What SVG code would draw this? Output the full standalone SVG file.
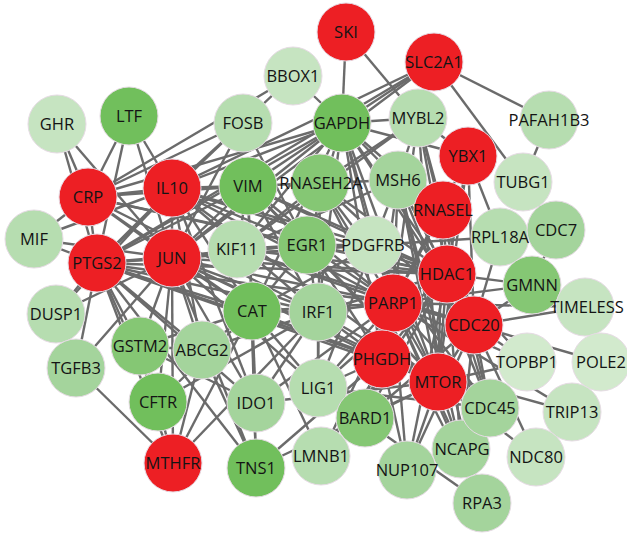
<svg xmlns="http://www.w3.org/2000/svg" width="627" height="535" viewBox="0 0 627 535">
<style>
.e path{stroke:#6b6b6b;stroke-width:2.4;fill:none}
.n circle{stroke:#e6dbe4;stroke-width:1}
.n text{font-family:"Open Sans","Noto Sans",sans-serif;font-size:16.5px;fill:#141414;text-anchor:middle}
.r{fill:#ed1f24}.g1{fill:#71bf5c}.g2{fill:#85c774}.g3{fill:#a4d49c}.g4{fill:#b6ddb0}.g5{fill:#c6e4c1}.g6{fill:#d2eacd}
</style>
<rect width="627" height="535" fill="#fff"/>
<g id="edges" class="e">
<path d="M346 32L342 123"/><path d="M346 32L418 118"/><path d="M434 62L342 123"/><path d="M434 62L418 118"/><path d="M434 62L549 120"/><path d="M434 62L523 182"/>
<path d="M293 76L243 123"/><path d="M293 76L342 123"/><path d="M293 76L88 197"/><path d="M549 120L523 182"/><path d="M523 182L556 230"/><path d="M468 156L500 237"/><path d="M468 156L418 118"/>
<path d="M57 124L97 263"/><path d="M57 124L172 258"/><path d="M57 124L88 197"/><path d="M129 116L88 197"/><path d="M129 116L97 263"/><path d="M129 116L172 188"/><path d="M129 116L172 258"/>
<path d="M88 197L243 123"/><path d="M172 188L243 123"/><path d="M88 197L342 123"/><path d="M172 188L342 123"/><path d="M172 258L342 123"/><path d="M97 263L342 123"/>
<path d="M172 188L248 186"/><path d="M88 197L248 186"/><path d="M172 258L248 186"/><path d="M97 263L248 186"/>
<path d="M88 197L172 188"/><path d="M88 197L97 263"/><path d="M88 197L172 258"/><path d="M172 188L97 263"/><path d="M172 188L172 258"/><path d="M97 263L172 258"/>
<path d="M34 239L88 197"/><path d="M34 239L97 263"/><path d="M34 239L172 258"/><path d="M34 239L172 188"/>
<path d="M56 314L97 263"/><path d="M56 314L172 258"/><path d="M56 314L172 188"/>
<path d="M76 368L173 463"/><path d="M76 368L97 263"/><path d="M76 368L172 258"/>
<path d="M172 258L237 249"/><path d="M237 249L307 245"/><path d="M172 258L307 245"/><path d="M97 263L307 245"/><path d="M172 188L307 245"/><path d="M88 197L307 245"/>
<path d="M172 258L252 311"/><path d="M97 263L252 311"/><path d="M172 188L252 311"/><path d="M88 197L252 311"/>
<path d="M172 258L318 312"/><path d="M97 263L318 312"/><path d="M172 188L318 312"/><path d="M88 197L318 312"/>
<path d="M172 258L202 350"/><path d="M97 263L202 350"/><path d="M172 188L202 350"/><path d="M172 258L140 346"/><path d="M97 263L140 346"/>
<path d="M172 258L256 403"/><path d="M97 263L256 403"/><path d="M172 188L256 403"/><path d="M172 258L158 402"/><path d="M97 263L158 402"/>
<path d="M172 258L173 463"/><path d="M97 263L173 463"/><path d="M172 258L256 468"/><path d="M97 263L256 468"/>
<path d="M172 258L393 303"/><path d="M97 263L393 303"/><path d="M172 188L393 303"/>
<path d="M172 258L447 274"/><path d="M97 263L447 274"/><path d="M88 197L447 274"/><path d="M172 188L447 274"/>
<path d="M172 258L373 245"/><path d="M97 263L373 245"/><path d="M172 188L373 245"/>
<path d="M172 258L438 382"/><path d="M97 263L438 382"/><path d="M172 188L438 382"/><path d="M172 258L382 359"/><path d="M97 263L382 359"/>
<path d="M172 258L243 123"/><path d="M97 263L243 123"/><path d="M172 258L434 62"/><path d="M97 263L434 62"/><path d="M172 188L434 62"/><path d="M172 258L318 388"/>
<path d="M342 123L248 186"/><path d="M342 123L307 245"/><path d="M342 123L252 311"/><path d="M342 123L237 249"/><path d="M342 123L418 118"/><path d="M342 123L398 180"/>
<path d="M342 123L393 303"/><path d="M342 123L447 274"/><path d="M342 123L438 382"/><path d="M342 123L382 359"/><path d="M342 123L373 245"/><path d="M342 123L468 156"/>
<path d="M342 123L318 312"/><path d="M342 123L443 210"/><path d="M342 123L474 325"/>
<path d="M248 186L307 245"/><path d="M248 186L252 311"/><path d="M248 186L237 249"/><path d="M248 186L373 245"/><path d="M248 186L447 274"/><path d="M248 186L393 303"/>
<path d="M248 186L438 382"/><path d="M248 186L318 312"/><path d="M248 186L256 468"/><path d="M248 186L320 183"/>
<path d="M307 245L373 245"/><path d="M307 245L252 311"/><path d="M307 245L318 312"/><path d="M307 245L447 274"/><path d="M307 245L393 303"/><path d="M307 245L438 382"/><path d="M307 245L243 123"/><path d="M307 245L382 359"/>
<path d="M252 311L318 312"/><path d="M252 311L202 350"/><path d="M252 311L256 403"/><path d="M252 311L140 346"/><path d="M252 311L158 402"/><path d="M252 311L173 463"/>
<path d="M252 311L256 468"/><path d="M252 311L393 303"/><path d="M252 311L382 359"/><path d="M252 311L438 382"/><path d="M252 311L318 388"/>
<path d="M318 312L256 403"/><path d="M318 312L202 350"/><path d="M318 312L393 303"/><path d="M318 312L447 274"/><path d="M318 312L173 463"/><path d="M318 312L318 388"/>
<path d="M318 312L382 359"/><path d="M318 312L438 382"/><path d="M318 312L158 402"/>
<path d="M202 350L173 463"/><path d="M202 350L256 468"/><path d="M202 350L140 346"/><path d="M140 346L158 402"/><path d="M140 346L256 403"/><path d="M158 402L173 463"/>
<path d="M256 403L438 382"/><path d="M256 403L393 303"/><path d="M256 468L382 359"/><path d="M256 468L438 382"/>
<path d="M321 456L393 303"/><path d="M321 456L447 274"/><path d="M321 456L252 311"/>
<path d="M318 388L393 303"/><path d="M318 388L382 359"/><path d="M318 388L398 180"/><path d="M318 388L320 183"/><path d="M318 388L490 408"/><path d="M318 388L447 274"/><path d="M318 388L482 503"/>
<path d="M365 418L393 303"/><path d="M365 418L382 359"/><path d="M365 418L447 274"/><path d="M365 418L474 325"/><path d="M365 418L438 382"/><path d="M365 418L398 180"/>
<path d="M418 118L398 180"/><path d="M418 118L447 274"/><path d="M418 118L474 325"/><path d="M418 118L438 382"/><path d="M418 118L393 303"/><path d="M418 118L320 183"/><path d="M418 118L237 249"/><path d="M418 118L490 408"/>
<path d="M398 180L320 183"/><path d="M398 180L393 303"/><path d="M398 180L447 274"/><path d="M398 180L474 325"/><path d="M398 180L438 382"/><path d="M398 180L490 408"/><path d="M398 180L237 249"/><path d="M398 180L482 503"/><path d="M398 180L461 449"/>
<path d="M320 183L393 303"/><path d="M320 183L490 408"/><path d="M320 183L482 503"/><path d="M320 183L447 274"/><path d="M320 183L474 325"/><path d="M320 183L237 249"/>
<path d="M468 156L447 274"/><path d="M468 156L393 303"/><path d="M468 156L438 382"/><path d="M468 156L474 325"/>
<path d="M443 210L393 303"/><path d="M443 210L447 274"/><path d="M443 210L438 382"/>
<path d="M447 274L393 303"/><path d="M447 274L474 325"/><path d="M447 274L438 382"/><path d="M447 274L382 359"/><path d="M447 274L532 285"/><path d="M447 274L490 408"/>
<path d="M447 274L461 449"/><path d="M447 274L407 470"/><path d="M447 274L527 362"/><path d="M447 274L237 249"/>
<path d="M393 303L474 325"/><path d="M393 303L438 382"/><path d="M393 303L382 359"/><path d="M393 303L490 408"/><path d="M393 303L461 449"/><path d="M393 303L407 470"/>
<path d="M393 303L527 362"/><path d="M393 303L532 285"/><path d="M393 303L585 307"/><path d="M393 303L237 249"/><path d="M393 303L482 503"/><path d="M393 303L572 412"/>
<path d="M474 325L438 382"/><path d="M474 325L532 285"/><path d="M474 325L585 307"/><path d="M474 325L527 362"/><path d="M474 325L601 362"/><path d="M474 325L536 457"/>
<path d="M474 325L490 408"/><path d="M474 325L461 449"/><path d="M474 325L407 470"/><path d="M474 325L500 237"/><path d="M474 325L237 249"/>
<path d="M438 382L382 359"/><path d="M438 382L490 408"/><path d="M438 382L461 449"/><path d="M438 382L407 470"/><path d="M438 382L536 457"/><path d="M438 382L527 362"/>
<path d="M382 359L407 470"/><path d="M382 359L572 412"/><path d="M382 359L490 408"/><path d="M532 285L556 230"/>
<path d="M373 245L500 237"/><path d="M373 245L393 303"/><path d="M373 245L447 274"/><path d="M373 245L438 382"/><path d="M373 245L252 311"/>
</g>
<g id="nodes" class="n">
<g id="SKI"><circle class="r" cx="346" cy="32" r="29"/><text x="346" y="38">SKI</text></g>
<g id="SLC2A1"><circle class="r" cx="434" cy="62" r="29"/><text x="434" y="68">SLC2A1</text></g>
<g id="BBOX1"><circle class="g5" cx="293" cy="76" r="29"/><text x="293" y="82">BBOX1</text></g>
<g id="GHR"><circle class="g5" cx="57" cy="124" r="29"/><text x="57" y="130">GHR</text></g>
<g id="LTF"><circle class="g1" cx="129" cy="116" r="29"/><text x="129" y="122">LTF</text></g>
<g id="FOSB"><circle class="g4" cx="243" cy="123" r="29"/><text x="243" y="129">FOSB</text></g>
<g id="GAPDH"><circle class="g1" cx="342" cy="123" r="29"/><text x="342" y="129">GAPDH</text></g>
<g id="MYBL2"><circle class="g4" cx="418" cy="118" r="29"/><text x="418" y="124">MYBL2</text></g>
<g id="PAFAH1B3"><circle class="g4" cx="549" cy="120" r="29"/><text x="549" y="126">PAFAH1B3</text></g>
<g id="YBX1"><circle class="r" cx="468" cy="156" r="29"/><text x="468" y="162">YBX1</text></g>
<g id="CRP"><circle class="r" cx="88" cy="197" r="29"/><text x="88" y="203">CRP</text></g>
<g id="IL10"><circle class="r" cx="172" cy="188" r="29"/><text x="172" y="194">IL10</text></g>
<g id="VIM"><circle class="g1" cx="248" cy="186" r="29"/><text x="248" y="192">VIM</text></g>
<g id="RNASEH2A"><circle class="g2" cx="320" cy="183" r="29"/><text x="321" y="189">RNASEH2A</text></g>
<g id="MSH6"><circle class="g3" cx="398" cy="180" r="29"/><text x="398" y="186">MSH6</text></g>
<g id="TUBG1"><circle class="g5" cx="523" cy="182" r="29"/><text x="523" y="188">TUBG1</text></g>
<g id="MIF"><circle class="g4" cx="34" cy="239" r="29"/><text x="34" y="245">MIF</text></g>
<g id="PTGS2"><circle class="r" cx="97" cy="263" r="29"/><text x="97" y="269">PTGS2</text></g>
<g id="JUN"><circle class="r" cx="172" cy="258" r="29"/><text x="172" y="264">JUN</text></g>
<g id="KIF11"><circle class="g4" cx="237" cy="249" r="29"/><text x="237" y="255">KIF11</text></g>
<g id="EGR1"><circle class="g2" cx="307" cy="245" r="29"/><text x="307" y="251">EGR1</text></g>
<g id="PDGFRB"><circle class="g5" cx="373" cy="245" r="29"/><text x="373" y="251">PDGFRB</text></g>
<g id="RNASEL"><circle class="r" cx="443" cy="210" r="29"/><text x="443" y="216">RNASEL</text></g>
<g id="RPL18A"><circle class="g4" cx="500" cy="237" r="29"/><text x="500" y="243">RPL18A</text></g>
<g id="CDC7"><circle class="g3" cx="556" cy="230" r="29"/><text x="556" y="236">CDC7</text></g>
<g id="HDAC1"><circle class="r" cx="447" cy="274" r="29"/><text x="447" y="280">HDAC1</text></g>
<g id="GMNN"><circle class="g2" cx="532" cy="285" r="29"/><text x="532" y="291">GMNN</text></g>
<g id="DUSP1"><circle class="g4" cx="56" cy="314" r="29"/><text x="56" y="320">DUSP1</text></g>
<g id="PARP1"><circle class="r" cx="393" cy="303" r="29"/><text x="393" y="309">PARP1</text></g>
<g id="TIMELESS"><circle class="g5" cx="585" cy="307" r="29"/><text x="587" y="313">TIMELESS</text></g>
<g id="CDC20"><circle class="r" cx="474" cy="325" r="29"/><text x="474" y="331">CDC20</text></g>
<g id="CAT"><circle class="g1" cx="252" cy="311" r="29"/><text x="252" y="317">CAT</text></g>
<g id="IRF1"><circle class="g3" cx="318" cy="312" r="29"/><text x="318" y="318">IRF1</text></g>
<g id="GSTM2"><circle class="g2" cx="140" cy="346" r="29"/><text x="140" y="352">GSTM2</text></g>
<g id="ABCG2"><circle class="g3" cx="202" cy="350" r="29"/><text x="202" y="356">ABCG2</text></g>
<g id="TGFB3"><circle class="g3" cx="76" cy="368" r="29"/><text x="76" y="374">TGFB3</text></g>
<g id="PHGDH"><circle class="r" cx="382" cy="359" r="29"/><text x="382" y="365">PHGDH</text></g>
<g id="MTOR"><circle class="r" cx="438" cy="382" r="29"/><text x="438" y="388">MTOR</text></g>
<g id="TOPBP1"><circle class="g6" cx="527" cy="362" r="29"/><text x="527" y="368">TOPBP1</text></g>
<g id="POLE2"><circle class="g6" cx="601" cy="362" r="29"/><text x="601" y="368">POLE2</text></g>
<g id="CFTR"><circle class="g1" cx="158" cy="402" r="29"/><text x="158" y="408">CFTR</text></g>
<g id="IDO1"><circle class="g3" cx="256" cy="403" r="29"/><text x="256" y="409">IDO1</text></g>
<g id="LIG1"><circle class="g4" cx="318" cy="388" r="29"/><text x="318" y="394">LIG1</text></g>
<g id="BARD1"><circle class="g2" cx="365" cy="418" r="29"/><text x="365" y="424">BARD1</text></g>
<g id="TRIP13"><circle class="g5" cx="572" cy="412" r="29"/><text x="572" y="418">TRIP13</text></g>
<g id="MTHFR"><circle class="r" cx="173" cy="463" r="29"/><text x="173" y="469">MTHFR</text></g>
<g id="TNS1"><circle class="g1" cx="256" cy="468" r="29"/><text x="256" y="474">TNS1</text></g>
<g id="LMNB1"><circle class="g4" cx="321" cy="456" r="29"/><text x="321" y="462">LMNB1</text></g>
<g id="NCAPG"><circle class="g3" cx="461" cy="449" r="29"/><text x="462" y="455">NCAPG</text></g>
<g id="NUP107"><circle class="g3" cx="407" cy="470" r="29"/><text x="407" y="476">NUP107</text></g>
<g id="CDC45"><circle class="g3" cx="490" cy="408" r="29"/><text x="490" y="414">CDC45</text></g>
<g id="NDC80"><circle class="g5" cx="536" cy="457" r="29"/><text x="536" y="463">NDC80</text></g>
<g id="RPA3"><circle class="g3" cx="482" cy="503" r="29"/><text x="482" y="509">RPA3</text></g>
</g>
</svg>
